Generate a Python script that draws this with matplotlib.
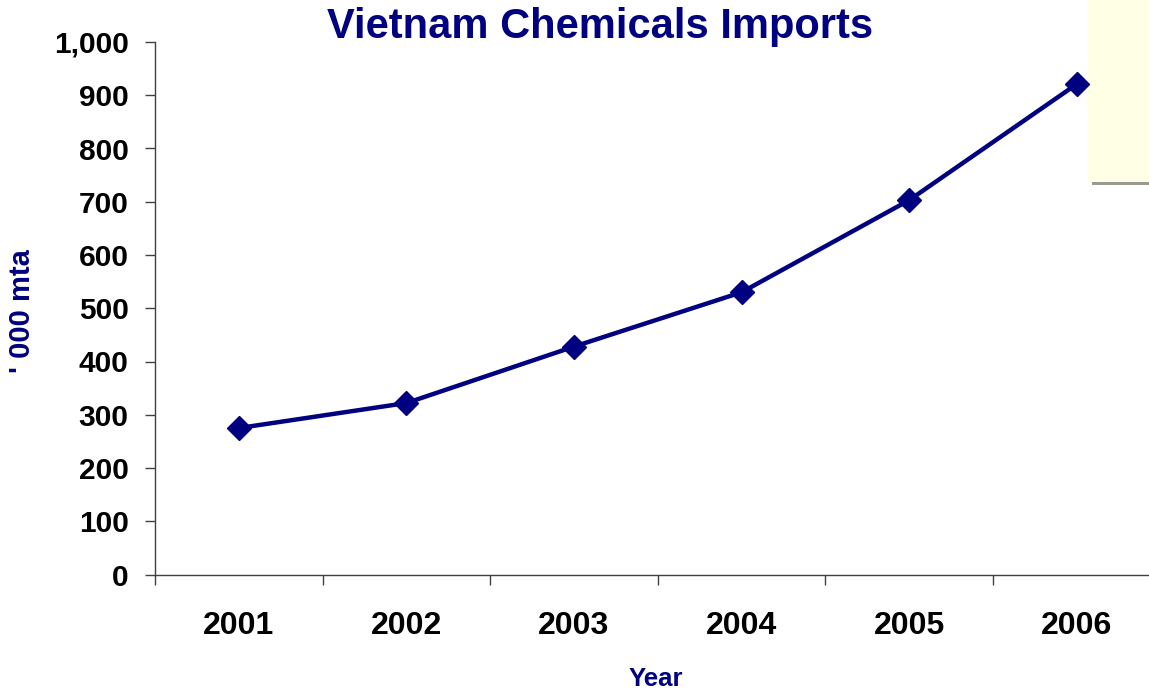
import matplotlib
matplotlib.use("Agg")
import matplotlib.pyplot as plt
from matplotlib.patches import Rectangle
from matplotlib.ticker import FuncFormatter, FixedLocator
import numpy as np

plt.rcParams['font.family'] = ['Liberation Sans', 'DejaVu Sans']

years = ["2001", "2002", "2003", "2004", "2005", "2006"]
imports = [275, 322, 428, 530, 703, 921]
yticks = [0, 100, 200, 300, 400, 500, 600, 700, 800, 900, 1000]

navy = "#000080"

fig = plt.figure(figsize=(11.49, 6.91), dpi=100)
W, H = 1149, 691
ax_left = 155 / W
ax_bottom = (H - 574.5) / H
ax_top = (H - 42) / H
ax_w = 6 * 167.6 / W
ax = fig.add_axes([ax_left, ax_bottom, ax_w, ax_top - ax_bottom])
ax.patch.set_visible(False)

x = np.arange(1, len(years) + 1)
ax.plot(x, imports, color=navy, lw=3.2, marker='D', markersize=12.5,
        markerfacecolor=navy, markeredgecolor=navy, clip_on=False, zorder=5)

ax.set_xlim(0.5, len(years) + 0.5)
ax.set_ylim(0, 1000)
ax.set_yticks(yticks)
ax.yaxis.set_major_formatter(FuncFormatter(lambda v, p: f"{int(v):,}"))

ax.xaxis.set_major_locator(FixedLocator(np.arange(0.5, len(years) + 1.0, 1.0)))
ax.xaxis.set_major_formatter(FuncFormatter(lambda v, p: ""))
ax.xaxis.set_minor_locator(FixedLocator(x))
ax.set_xticklabels(years, minor=True)

for s in ['top', 'right']:
    ax.spines[s].set_visible(False)
for s in ['left', 'bottom']:
    ax.spines[s].set_color('#404040')
    ax.spines[s].set_linewidth(1.0)

ax.tick_params(axis='y', which='major', direction='out', length=7, width=1,
               color='#404040', labelsize=21.5, pad=12)
ax.tick_params(axis='x', which='major', direction='out', length=7, width=1,
               color='#404040')
ax.tick_params(axis='x', which='minor', length=0, labelsize=23, pad=26)
for lbl in ax.get_yticklabels():
    lbl.set_fontweight('bold')
for lbl in ax.get_xticklabels(minor=True):
    lbl.set_fontweight('bold')

fig.text(600 / W, 1 - 27 / H, "Vietnam Chemicals Imports", ha='center', va='center',
         fontsize=30, fontweight='bold', color=navy)
fig.text(22 / W, 1 - 311 / H, "' 000 mta", ha='center', va='center', rotation=90,
         fontsize=21, fontweight='bold', color=navy)
fig.text(656 / W, 1 - 679 / H, "Year", ha='center', va='center',
         fontsize=18.5, fontweight='bold', color=navy)

# pale yellow box at top right (behind the plot content)
fig.patches.append(Rectangle((1092 / W, 1 - 185 / H), (W - 1092) / W, 3 / H,
                             transform=fig.transFigure, facecolor='#9a9a90',
                             edgecolor='none', zorder=-2))
fig.patches.append(Rectangle((1088 / W, 1 - 181 / H), (W - 1088) / W, 181 / H,
                             transform=fig.transFigure, facecolor='#FFFFE6',
                             edgecolor='none', zorder=-1))

fig.savefig("out.png", dpi=100)
